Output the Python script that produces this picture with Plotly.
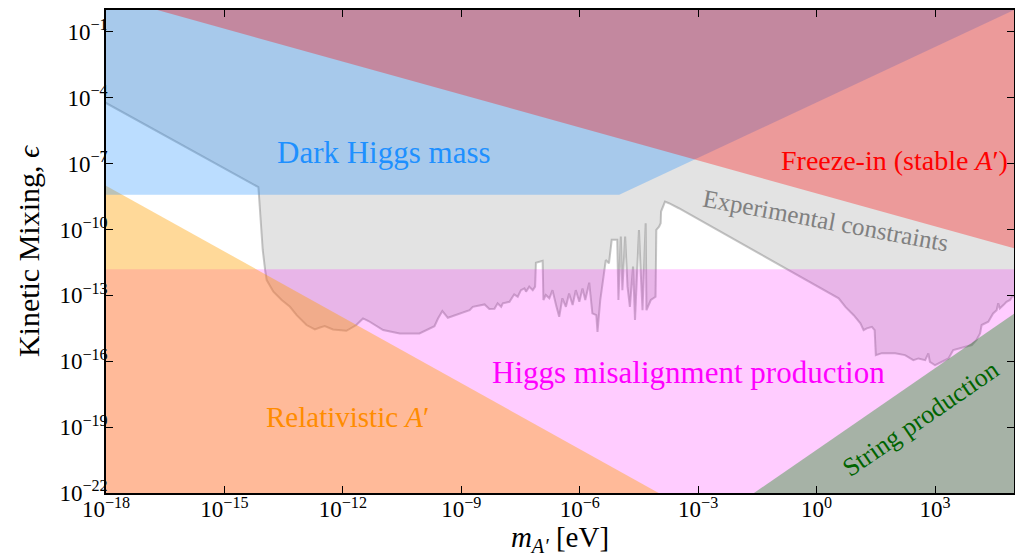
import numpy as np
import plotly.graph_objects as go

# ---- axes (log10 units) ----
x_range = [-18, 5]
y_range = [-22, 0]
x_tick_exp = [-18, -15, -12, -9, -6, -3, 0, 3]
y_tick_exp = [-22, -19, -16, -13, -10, -7, -4, -1]

# ---- region boundaries, as (log10 m_A' [eV], log10 epsilon) ----
exp_boundary = [
    (-18.5, -3.74), (-18.0, -4.24), (-14.14, -8.07), (-14.10, -9.11), (-14.03, -10.93),
    (-13.97, -11.84), (-13.93, -12.30), (-13.76, -12.83), (-13.55, -13.21), (-13.34, -13.52),
    (-13.17, -13.90), (-12.92, -14.35), (-12.71, -14.55), (-12.58, -14.46), (-12.46, -14.40),
    (-12.25, -14.55), (-11.91, -14.61), (-11.66, -14.35), (-11.49, -14.05), (-11.36, -14.16),
    (-11.32, -14.20), (-10.98, -14.58), (-10.56, -14.73), (-10.06, -14.73), (-9.68, -14.40),
    (-9.59, -14.05), (-9.48, -13.71), (-9.34, -14.02), (-9.09, -13.85), (-8.79, -13.67),
    (-8.71, -13.52), (-8.41, -13.41), (-8.29, -13.62), (-8.16, -13.61), (-8.08, -13.36),
    (-7.99, -13.52), (-7.95, -13.36), (-7.78, -13.29), (-7.66, -12.95), (-7.57, -13.06),
    (-7.49, -12.76), (-7.40, -12.68), (-7.36, -12.83), (-7.28, -12.60), (-7.19, -12.76),
    (-7.13, -12.60), (-7.11, -11.51), (-6.94, -11.42), (-6.92, -13.21), (-6.86, -12.98),
    (-6.77, -13.13), (-6.69, -12.76), (-6.60, -13.44), (-6.52, -13.97), (-6.44, -13.13),
    (-6.35, -13.52), (-6.27, -12.91), (-6.18, -13.44), (-6.10, -12.76), (-6.01, -13.29),
    (-5.93, -12.68), (-5.86, -13.21), (-5.76, -12.42), (-5.68, -13.82), (-5.58, -13.90),
    (-5.55, -14.66), (-5.48, -13.21), (-5.38, -11.84), (-5.34, -11.39), (-5.26, -11.54),
    (-5.19, -10.47), (-5.05, -10.47), (-5.02, -13.21), (-4.96, -10.32), (-4.92, -12.76),
    (-4.85, -10.32), (-4.79, -12.60), (-4.73, -13.52), (-4.65, -11.69), (-4.60, -14.12),
    (-4.50, -10.02), (-4.45, -12.15), (-4.41, -13.67), (-4.33, -9.71), (-4.31, -13.67),
    (-4.20, -13.21), (-4.08, -13.06), (-4.06, -10.02), (-3.99, -9.87), (-3.95, -9.71),
    (-3.94, -9.18), (-3.84, -8.73), (-3.74, -8.80), (-3.49, -9.03), (-0.71, -11.84),
    (0.22, -12.76), (0.56, -13.13), (0.73, -13.52), (0.94, -13.90), (1.11, -14.27),
    (1.19, -14.58), (1.27, -14.50), (1.40, -14.43), (1.47, -14.58), (1.50, -15.72),
    (1.65, -15.63), (1.99, -15.64), (2.24, -15.72), (2.45, -15.95), (2.58, -15.87),
    (2.75, -15.95), (2.83, -15.64), (2.87, -16.03), (3.00, -16.18), (3.17, -16.03),
    (3.34, -15.87), (3.46, -15.49), (3.59, -15.42), (3.72, -15.34), (3.93, -15.26),
    (4.05, -15.03), (4.14, -14.73), (4.18, -14.35), (4.35, -14.20), (4.47, -13.82),
    (4.56, -13.67), (4.60, -13.36), (4.64, -13.59), (4.73, -13.44), (4.81, -13.29),
    (4.90, -13.21), (4.95, -13.06), (5.5, -12.8),
]
exp_top_m = [5.5, -18.5]
exp_top_eps = [1.0, 1.0]

higgs_mass_m = [-18.5, -5.0, 5.0, 5.5, 5.5, -18.5]
higgs_mass_eps = [-8.42, -8.42, 0.0, 0.42, 1.0, 1.0]

freeze_m = [-18.5, 5.5, 5.5, -18.5]
freeze_eps = [0.9, -11.1, 1.0, 1.0]

misalign_m = [-18.5, 5.5, 5.5, -18.5]
misalign_eps = [-11.81, -11.81, -22.5, -22.5]

relativistic_m = [-18.5, -3.5, -18.5]
relativistic_eps = [-7.5, -22.5, -22.5]

string_m = [-1.99, 5.5, 5.5]
string_eps = [-22.5, -13.21, -22.5]

# ---- labels ----
label_text = ["Dark Higgs mass", "Freeze-in (stable <i>A</i>′)", "Experimental constraints",
              "Higgs misalignment production", "Relativistic <i>A</i>′", "String production"]
label_m = [-10.95, 1.97, 0.23, -3.25, -11.89, 2.64]
label_eps = [-6.48, -6.87, -9.61, -16.52, -18.54, -18.59]
label_angle = [0, 0, 10.5, 0, 0, -34.5]
label_size = [31, 28, 25, 31, 29, 26]
label_color = ["rgb(30,144,255)", "rgb(255,0,0)", "rgb(128,128,128)",
               "rgb(255,0,255)", "rgb(255,140,0)", "rgb(0,100,0)"]

FONT = "Liberation Serif, DejaVu Serif, serif"

def p10(a):
    return np.power(10.0, np.asarray(a, dtype=float))

fig = go.Figure()

def region(ms, es, color):
    fig.add_trace(go.Scatter(x=p10(ms), y=p10(es), mode="lines", fill="toself",
                             fillcolor=color, line=dict(width=0), hoverinfo="skip",
                             showlegend=False))

exp_m = [p[0] for p in exp_boundary]
exp_e = [p[1] for p in exp_boundary]

region(exp_m + exp_top_m, exp_e + exp_top_eps, "rgba(128,128,128,0.22)")
fig.add_trace(go.Scatter(x=p10(exp_m), y=p10(exp_e), mode="lines",
                         line=dict(color="rgba(128,128,128,0.45)", width=2),
                         hoverinfo="skip", showlegend=False))
region(misalign_m, misalign_eps, "rgba(255,0,255,0.2)")
region(relativistic_m, relativistic_eps, "rgba(255,160,0,0.4)")
region(string_m, string_eps, "rgba(0,128,0,0.35)")
region(higgs_mass_m, higgs_mass_eps, "rgba(30,144,255,0.3)")
region(freeze_m, freeze_eps, "rgba(255,0,0,0.32)")

for t, m, e, a, s, c in zip(label_text, label_m, label_eps, label_angle, label_size, label_color):
    fig.add_annotation(x=m, y=e, xref="x", yref="y", text=t, showarrow=False,
                       textangle=a, xanchor="center", yanchor="middle",
                       font=dict(family=FONT, size=s, color=c))

def tick_text(exps):
    return ["10<sup>" + (str(v).replace("-", "−")) + "</sup>" for v in exps]

axis_common = dict(type="log", showgrid=False, zeroline=False, showline=True,
                   linecolor="black", linewidth=1.5, mirror="ticks", ticks="inside",
                   ticklen=7, tickwidth=1, tickcolor="black", automargin=False,
                   tickfont=dict(family=FONT, size=23, color="black"))

fig.update_layout(
    width=1015, height=557,
    margin=dict(l=106, r=1, t=10, b=64, autoexpand=False),
    paper_bgcolor="white", plot_bgcolor="white",
    xaxis=dict(range=x_range, tickvals=list(p10(x_tick_exp)), ticktext=tick_text(x_tick_exp),
               ticklabelstandoff=-5,
               title=dict(text="<i>m</i><sub><i>A′</i></sub> [eV]",
                          font=dict(family=FONT, size=29, color="black"), standoff=14),
               **axis_common),
    yaxis=dict(range=y_range, tickvals=list(p10(y_tick_exp)), ticktext=tick_text(y_tick_exp),
               ticklabelstandoff=-8,
               title=dict(text="Kinetic Mixing, <i>ϵ</i>",
                          font=dict(family=FONT, size=30, color="black"), standoff=11),
               **axis_common),
)

fig.write_html("out.html", config={"displayModeBar": False},
               post_script="document.body.style.margin='0px';document.body.style.padding='0px';")
